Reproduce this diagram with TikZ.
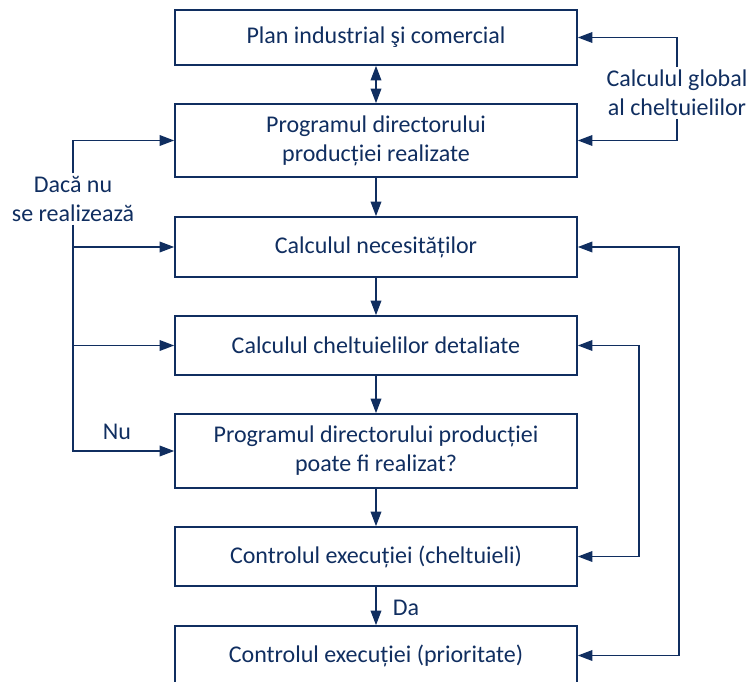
\documentclass[tikz,border=0pt]{standalone}
\usepackage{fontspec}
\setmainfont{Carlito}
\usepackage{tikz}
\usetikzlibrary{arrows.meta,positioning}
\definecolor{navy}{RGB}{16,46,96}

\begin{document}
\begin{tikzpicture}[x=0.75pt, y=-0.75pt,
        box/.style={draw=navy, line width=1.2pt, minimum width=301.5pt, align=center, text=navy, font=\fontsize{18}{21.75}\selectfont},
        lbl/.style={text=navy, align=center, inner sep=2pt, font=\fontsize{18}{21.75}\selectfont},
        arr/.style={draw=navy, line width=1.2pt, -{Triangle[length=11pt, width=8pt]}},
        both/.style={draw=navy, line width=1.2pt, {Triangle[length=11pt, width=8pt]}-{Triangle[length=11pt, width=8pt]}}]
        \useasboundingbox (0,0) rectangle (748,681);

        \coordinate (c1) at (376, 37.5);
        \coordinate (c2) at (376, 140.5);
        \coordinate (c3) at (376, 247);
        \coordinate (c4) at (376, 345.5);
        \coordinate (c5) at (376, 451);
        \coordinate (c6) at (376, 556.5);
        \coordinate (c7) at (376, 655.5);

        \node[box, minimum height=41.25pt] (plan) at (c1) {Plan industrial şi comercial};
        \node[box, minimum height=54.75pt] (progr) at (c2) {Programul directorului\\producției realizate};
        \node[box, minimum height=45pt] (neces) at (c3) {Calculul necesităților};
        \node[box, minimum height=44.25pt] (chelt) at (c4) {Calculul cheltuielilor detaliate};
        \node[box, minimum height=55.5pt] (posibil) at (c5) {Programul directorului producției\\poate fi realizat?};
        \node[box, minimum height=44.25pt] (ctrlch) at (c6) {Controlul execuției (cheltuieli)};
        \node[box, minimum height=44.25pt] (ctrlpr) at (c7) {Controlul execuției (prioritate)};

        \node[lbl] (global) at (677, 93) {Calculul global\\al cheltuielilor};
        \node[lbl] (dacanu) at (73, 199) {Dacă nu\\se realizează};
        \node[lbl] (nu) at (117, 432) {Nu};
        \node[lbl] (da) at (406, 608) {Da};

        \draw[both] (plan) -- (progr);
        \draw[arr] (progr) -- (neces);
        \draw[arr] (neces) -- (chelt);
        \draw[arr] (chelt) -- (posibil);
        \draw[arr] (posibil) -- (ctrlch);
        \draw[arr] (ctrlch) -- (ctrlpr);

        \draw[arr] (global.north) |- (plan.east);
        \draw[arr] (global.south) |- (progr.east);

        \draw[arr] (dacanu.north) |- (progr.west);
        \draw[arr] (dacanu.south) |- (posibil.west);
        \draw[arr] (dacanu.south |- neces.west) -- (neces.west);
        \draw[arr] (dacanu.south |- chelt.west) -- (chelt.west);

        \draw[both] (chelt.east) -- ++(61, 0) |- (ctrlch.east);
        \draw[both] (neces.east) -- ++(101, 0) |- (ctrlpr.east);
    \end{tikzpicture}
\end{document}
